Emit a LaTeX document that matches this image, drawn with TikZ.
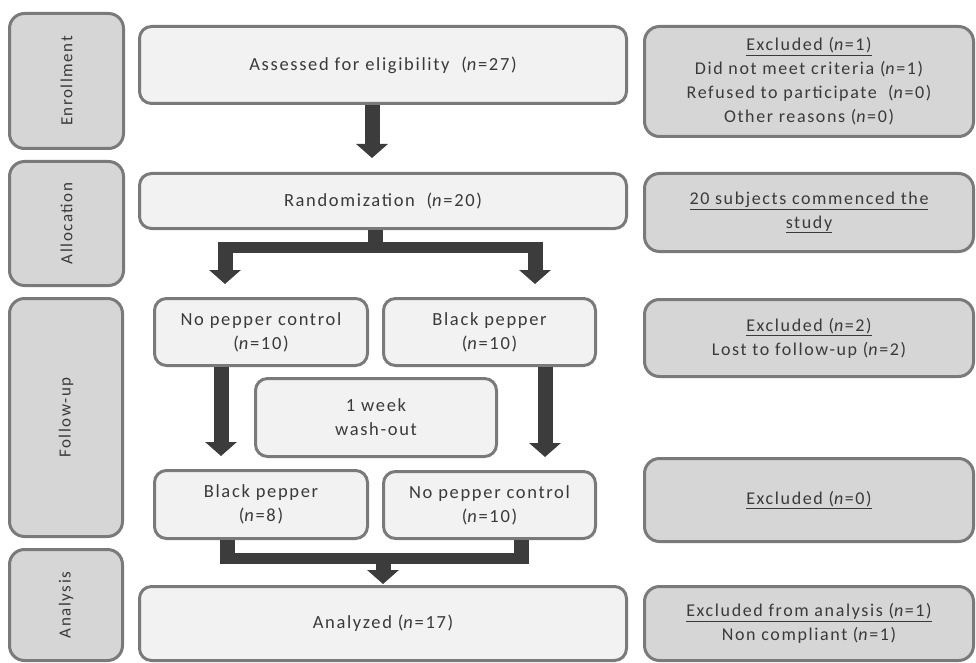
\documentclass[tikz,border=0pt]{standalone}
\usepackage{fontspec}
\setmainfont{Carlito}[LetterSpace=9]
\usetikzlibrary{arrows.meta}

\definecolor{boxline}{HTML}{7A7A7A}
\definecolor{mainfill}{HTML}{F2F2F2}
\definecolor{sidefill}{HTML}{D6D6D6}
\definecolor{arrowgray}{HTML}{3C3C3C}
\definecolor{textgray}{HTML}{3A3A3A}

\tikzset{
  mainbox/.style={draw=boxline, line width=3pt, fill=mainfill, rounded corners=12pt,
    text=textgray, align=center, font=\fontsize{18.5}{24}\selectfont},
  sidebox/.style={mainbox, fill=sidefill, rounded corners=15pt, font=\fontsize{18}{24}\selectfont},
  phasebox/.style={sidebox, rotate=90, font=\fontsize{17}{20}\selectfont},
  stem/.style={draw=arrowgray, line width=15pt},
  bar/.style={draw=arrowgray, line width=11pt},
  fat/.style={stem, -{Triangle[width=31pt,length=14pt]}}
}

\begin{document}
\begin{tikzpicture}[x=1pt, y=-1pt]
          \useasboundingbox (0,0) rectangle (976,663);
          % phases (rotated, so width and height are swapped)
          \node[phasebox, minimum width=135pt, minimum height=114pt] (enroll) at (66.5,81) {Enrollment};
          \node[phasebox, minimum width=124pt, minimum height=114pt] (alloc) at (66.5,223.5) {Allocation};
          \node[phasebox, minimum width=238pt, minimum height=113pt] (follow) at (66,417.5) {Follow-up};
          \node[phasebox, minimum width=111pt, minimum height=113pt] (analysis) at (66,605) {Analysis};
          % main column
          \node[mainbox, minimum width=487pt, minimum height=77pt] (assess) at (383,65) {Assessed for eligibility~~(\textit{n}=27)};
          \node[mainbox, minimum width=487pt, minimum height=55pt] (rand) at (383,201) {Randomization~~(\textit{n}=20)};
          \node[mainbox, minimum width=213pt, minimum height=67pt] (npc1) at (261,332) {No pepper control\\(\textit{n}=10)};
          \node[mainbox, minimum width=212pt, minimum height=67pt] (bp1) at (489.5,332) {Black pepper\\(\textit{n}=10)};
          \node[mainbox, minimum width=241pt, minimum height=78pt] (washout) at (376,417.5) {1 week\\wash-out};
          \node[mainbox, minimum width=213pt, minimum height=68pt] (bp8) at (261,504.5) {Black pepper\\(\textit{n}=8)};
          \node[mainbox, minimum width=212pt, minimum height=67pt] (npc2) at (489.5,505) {No pepper control\\(\textit{n}=10)};
          \node[mainbox, minimum width=487pt, minimum height=74pt] (analyzed) at (383,623.5) {Analyzed (\textit{n}=17)};
          % exclusions
          \node[sidebox, minimum width=329pt, minimum height=110pt] (excl1) at (809,81.5) {\underline{Excluded (\textit{n}=1)}\\Did not meet criteria (\textit{n}=1)\\Refused to participate~~(\textit{n}=0)\\Other reasons (\textit{n}=0)};
          \node[sidebox, minimum width=329pt, minimum height=78pt] (commenced) at (809,212.5) {\underline{20 subjects commenced the}\\\underline{study}};
          \node[sidebox, minimum width=329pt, minimum height=77pt] (excl2) at (809,338) {\underline{Excluded (\textit{n}=2)}\\Lost to follow-up (\textit{n}=2)};
          \node[sidebox, minimum width=329pt, minimum height=83pt] (excl0) at (809,500) {\underline{Excluded (\textit{n}=0)}};
          \node[sidebox, minimum width=329pt, minimum height=74pt] (exclan) at (809,623.5) {\underline{Excluded from analysis (\textit{n}=1)}\\Non compliant (\textit{n}=1)};
          % arrows
          \draw[fat, shorten >=14pt] ([xshift=-11pt]assess.south) -- ([xshift=-11pt]rand.north);
          \coordinate (split) at (375,247);
          \coordinate (splitL) at (225,247);
          \coordinate (splitR) at (535,247);
          \draw[stem] ([xshift=-8pt]rand.south) -- (split);
          \draw[bar] ([xshift=-7.5pt]splitL) -- ([xshift=7.5pt]splitR);
          \draw[fat, shorten >=13pt] ([yshift=5.5pt]splitL) -- (npc1.north -| splitL);
          \draw[fat, shorten >=13pt] ([yshift=5.5pt]splitR) -- (bp1.north -| splitR);
          \draw[fat, shorten >=13pt] ([xshift=-40pt]npc1.south) -- ([xshift=-40pt]bp8.north);
          \draw[fat, shorten >=13pt] ([xshift=55.5pt]bp1.south) -- ([xshift=55.5pt]npc2.north);
          \coordinate (merge) at (383,558);
          \coordinate (mergeL) at (227,558);
          \coordinate (mergeR) at (521,558);
          \draw[stem] (bp8.south -| mergeL) -- (mergeL);
          \draw[stem] (npc2.south -| mergeR) -- (mergeR);
          \draw[bar] ([xshift=-7.5pt]mergeL) -- ([xshift=7.5pt]mergeR);
          \draw[fat, shorten >=1pt] ([yshift=5pt]merge) -- (analyzed.north);
        \end{tikzpicture}
\end{document}
